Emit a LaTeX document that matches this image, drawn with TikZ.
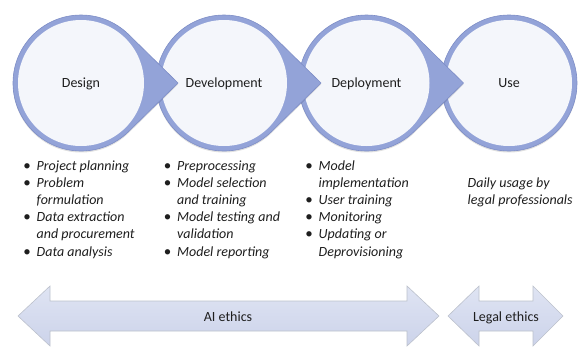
\documentclass[tikz,border=0pt]{standalone}
\usepackage{fontspec}
\setmainfont{Carlito}
\usetikzlibrary{calc}
\definecolor{ringc}{HTML}{93A3D8}
\definecolor{ringedge}{HTML}{7D8DC6}
\definecolor{innerc}{HTML}{F4F6FB}
\definecolor{arrowtop}{HTML}{DFE4F3}
\definecolor{arrowbot}{HTML}{CCD3EA}
\definecolor{arrowedge}{HTML}{BCC1CC}
\definecolor{txt}{HTML}{1E1E1E}
\newcommand\bu{\llap{\makebox[19pt][c]{\upshape\fontsize{15}{17.2}\selectfont •}}}
\begin{document}
\begin{tikzpicture}[x=1pt,y=-1pt,
  ring/.style={fill=ringc, draw=ringedge, line width=0.6pt,
    preaction={fill=black, opacity=0.12, transform canvas={yshift=-1.5pt}}},
  stage/.style={circle, fill=innerc, minimum size=126pt, inner sep=0pt,
    font=\fontsize{14}{17}\selectfont, text=txt, text height=10pt, text depth=2pt},
  items/.style={anchor=base west, inner sep=0pt,
    font=\fontsize{14}{17.2}\selectfont\itshape, text=txt},
  ethics/.style={anchor=base, inner sep=0pt, font=\fontsize{14}{17}\selectfont, text=txt},
  band/.style={top color=arrowtop, bottom color=arrowbot, draw=arrowedge, line width=0.6pt}]
\useasboundingbox (0,0) rectangle (579,346);

\coordinate (cDes) at (81,83);
\coordinate (cDev) at (224,83);
\coordinate (cDep) at (366.5,83);
\coordinate (cUse) at (509,83);

% stages, drawn right to left so each tip lies over the next circle
\draw[ring] (cUse) circle[radius=68];
\node[stage] (use) at (cUse) {Use};

\draw[ring] ($(cDep)+(97,0)$) -- ($(cDep)+(45.5:68)$) arc[start angle=45.5, end angle=314.5, radius=68] -- cycle;
\node[stage] (deployment) at (cDep) {Deployment};

\draw[ring] ($(cDev)+(97,0)$) -- ($(cDev)+(45.5:68)$) arc[start angle=45.5, end angle=314.5, radius=68] -- cycle;
\node[stage] (development) at (cDev) {Development};

\draw[ring] ($(cDes)+(97,0)$) -- ($(cDes)+(45.5:68)$) arc[start angle=45.5, end angle=314.5, radius=68] -- cycle;
\node[stage] (design) at (cDes) {Design};

% lists
\node[items] (desList) at (36.5,170) {\begin{tabular}[t]{@{}l@{}}\bu Project planning\\ \bu Problem\\ formulation\\ \bu Data extraction\\ and procurement\\ \bu Data analysis\end{tabular}};
\node[items] (devList) at (177,170) {\begin{tabular}[t]{@{}l@{}}\bu Preprocessing\\ \bu Model selection\\ and training\\ \bu Model testing and\\ validation\\ \bu Model reporting\end{tabular}};
\node[items] (depList) at (318.5,170) {\begin{tabular}[t]{@{}l@{}}\bu Model\\ implementation\\ \bu User training\\ \bu Monitoring\\ \bu Updating or\\ Deprovisioning\end{tabular}};
\node[items] (useText) at (467.5,187.2) {\begin{tabular}[t]{@{}l@{}}Daily usage by\\ legal professionals\end{tabular}};

% ethics arrows
\draw[band] (18,316) -- (50,286) -- (50,301) -- (407,301) -- (407,286) -- (439,316) -- (407,346) -- (407,331) -- (50,331) -- (50,346) -- cycle;
\draw[band] (448,316) -- (479,286) -- (479,301) -- (533,301) -- (533,286) -- (563,316) -- (533,346) -- (533,331) -- (479,331) -- (479,346) -- cycle;
\node[ethics] (aiText) at (228,321.5) {AI ethics};
\node[ethics] (legalText) at (506,321.5) {Legal ethics};
\end{tikzpicture}
\end{document}
